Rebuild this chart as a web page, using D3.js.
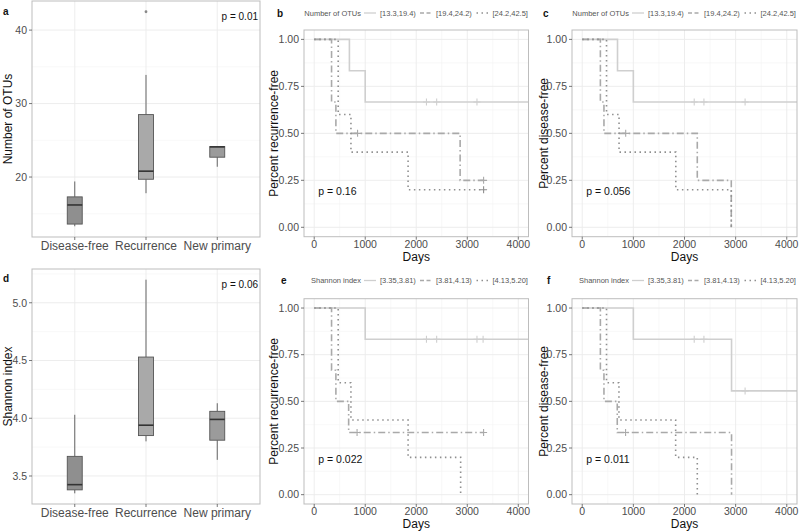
<!DOCTYPE html>
<html>
<head>
<meta charset="utf-8">
<script src="https://cdn.jsdelivr.net/npm/d3@7"></script>
<style>
  body { margin: 0; background: #fff; }
  svg { font-family: "Liberation Sans", Arial, sans-serif; }
</style>
</head>
<body>
<svg id="fig" width="800" height="532"></svg>
<script>
// ---- data ----
const groups = ["Disease-free", "Recurrence", "New primary"];
// boxplot summaries: [lower whisker, q1, median, q3, upper whisker]
const otuBoxes = [[13.3, 13.6, 16.2, 17.3, 19.4], [17.8, 19.7, 20.8, 28.5, 33.9], [21.4, 22.7, 24.1, 24.15, 24.2]];
const otuOutliers = [["Recurrence", 42.5]];
const shannonBoxes = [[3.35, 3.38, 3.425, 3.67, 4.03], [3.8, 3.85, 3.94, 4.53, 5.2], [3.64, 3.81, 3.99, 4.06, 4.13]];
const shannonOutliers = [];

const otuLevels = ["[13.3,19.4)", "[19.4,24.2)", "[24.2,42.5]"];
const shannonLevels = ["[3.35,3.81)", "[3.81,4.13)", "[4.13,5.20]"];

// Kaplan-Meier steps [day, survival] for the three strata, plus censored days
const otuRecSteps = [
  [[0, 1], [690, 0.833], [1000, 0.667], [4500, 0.667]],
  [[0, 1], [340, 0.667], [425, 0.5], [2860, 0.25], [3330, 0.25]],
  [[0, 1], [470, 0.6], [720, 0.4], [1840, 0.2], [3330, 0.2]]
];
const otuRecCensor = [[2200, 2400, 3190], [850, 3320], [3320]];

const otuDfSteps = [
  [[0, 1], [690, 0.833], [1000, 0.667], [4500, 0.667]],
  [[0, 1], [355, 0.667], [425, 0.5], [2250, 0.25], [2915, 0]],
  [[0, 1], [475, 0.6], [720, 0.4], [1830, 0.2], [2915, 0]]
];
const otuDfCensor = [[2190, 2380, 3185], [850], []];

const shRecSteps = [
  [[0, 1], [1000, 0.833], [4500, 0.833]],
  [[0, 1], [340, 0.667], [425, 0.5], [675, 0.333], [3330, 0.333]],
  [[0, 1], [470, 0.6], [720, 0.4], [1840, 0.2], [2870, 0]]
];
const shRecCensor = [[2200, 2400, 3190, 3310], [840, 3320], []];

const shDfSteps = [
  [[0, 1], [1000, 0.833], [2920, 0.556], [4500, 0.556]],
  [[0, 1], [355, 0.667], [425, 0.5], [685, 0.333], [2920, 0]],
  [[0, 1], [475, 0.6], [718, 0.4], [1827, 0.2], [2250, 0]]
];
const shDfCensor = [[2190, 2380, 3185], [848], []];

// ---- styles ----
const boxFill = ["#8f8f8f", "#a9a9a9", "#9b9b9b"];
const lineColor = ["#cfcfcf", "#a9a9a9", "#8f8f8f"];
const lineDash = [null, "7,3,1.5,3", "1.5,3.5"];
const gridMajor = "#ebebeb";
const gridMinor = "#f4f4f4";
const borderColor = "#bdbdbd";
const tickText = "#4d4d4d";

const svg = d3.select("#fig");
let clipId = 0;

function grid(g, x0, x1, y0, y1, xs, ys, color, width) {
  g.selectAll(null).data(xs).join("line")
    .attr("x1", (d) => d).attr("x2", (d) => d).attr("y1", y0).attr("y2", y1)
    .attr("stroke", color).attr("stroke-width", width);
  g.selectAll(null).data(ys).join("line")
    .attr("y1", (d) => d).attr("y2", (d) => d).attr("x1", x0).attr("x2", x1)
    .attr("stroke", color).attr("stroke-width", width);
}

function yAxisTicks(g, left, y, ticks, fmt) {
  const t = g.append("g");
  t.selectAll(null).data(ticks).join("line")
    .attr("x1", left - 3).attr("x2", left).attr("y1", (d) => y(d)).attr("y2", (d) => y(d))
    .attr("stroke", "#555").attr("stroke-width", 0.8);
  t.selectAll(null).data(ticks).join("text")
    .attr("x", left - 5).attr("y", (d) => y(d)).attr("dy", "0.36em")
    .attr("text-anchor", "end").attr("font-size", 10.5).attr("fill", tickText)
    .text(fmt);
}

function panelFrame(g, left, top, right, bottom) {
  g.append("rect")
    .attr("x", left).attr("y", top).attr("width", right - left).attr("height", bottom - top)
    .attr("fill", "none").attr("stroke", borderColor).attr("stroke-width", 1);
}

function yTitle(x, top, bottom, label) {
  svg.append("text")
    .attr("transform", `translate(${x},${(top + bottom) / 2}) rotate(-90)`)
    .attr("text-anchor", "middle").attr("font-size", 12).attr("fill", "#111")
    .text(label);
}

function letter(x, y, s) {
  svg.append("text").attr("x", x).attr("y", y)
    .attr("font-size", 10).attr("font-weight", "bold").attr("fill", "#111").text(s);
}

// ---- boxplot panel ----
function boxPanel(o) {
  const { left, right, top, bottom, boxes, outliers, major, minor, fmt } = o;
  const all = boxes.flat().concat(outliers.map((d) => d[1]));
  const [lo, hi] = d3.extent(all);
  const pad = (hi - lo) * 0.05;
  const y = d3.scaleLinear().domain([lo - pad, hi + pad]).range([bottom, top]);
  const x = d3.scalePoint().domain(groups).range([left, right]).padding(0.6);
  const bw = x.step() * 0.21;
  const g = svg.append("g");

  grid(g, left, right, top, bottom, [], minor.map(y), gridMinor, 0.6);
  grid(g, left, right, top, bottom, groups.map(x), major.map(y), gridMajor, 0.9);

  const b = g.selectAll(null).data(boxes).join("g")
    .attr("transform", (d, i) => `translate(${x(groups[i])},0)`);
  b.append("line").attr("y1", (d) => y(d[0])).attr("y2", (d) => y(d[1]))
    .attr("stroke", "#666").attr("stroke-width", 1);
  b.append("line").attr("y1", (d) => y(d[3])).attr("y2", (d) => y(d[4]))
    .attr("stroke", "#666").attr("stroke-width", 1);
  b.append("rect")
    .attr("x", -bw / 2).attr("width", bw)
    .attr("y", (d) => y(d[3])).attr("height", (d) => y(d[1]) - y(d[3]))
    .attr("fill", (d, i) => boxFill[i]).attr("stroke", "#555").attr("stroke-width", 0.9);
  b.append("line").attr("x1", -bw / 2).attr("x2", bw / 2)
    .attr("y1", (d) => y(d[2])).attr("y2", (d) => y(d[2]))
    .attr("stroke", "#333").attr("stroke-width", 1.6);

  g.selectAll(null).data(outliers).join("circle")
    .attr("cx", (d) => x(d[0])).attr("cy", (d) => y(d[1])).attr("r", 1.4)
    .attr("fill", "#888");

  panelFrame(g, left, top, right, bottom);
  yAxisTicks(g, left, y, major, fmt);

  g.selectAll(null).data(groups).join("line")
    .attr("x1", (d) => x(d)).attr("x2", (d) => x(d)).attr("y1", bottom).attr("y2", bottom + 3)
    .attr("stroke", "#555").attr("stroke-width", 0.8);
  g.selectAll(null).data(groups).join("text")
    .attr("x", (d) => x(d)).attr("y", bottom + 13)
    .attr("text-anchor", "middle").attr("font-size", 12).attr("fill", tickText)
    .text((d) => d);

  g.append("text").attr("x", right - 2).attr("y", top + 19)
    .attr("text-anchor", "end").attr("font-size", 10).attr("fill", "#111").text(o.pText);

  yTitle(o.titleX, top, bottom, o.yLabel);
  letter(3, o.letterY, o.letter);
}

// ---- Kaplan-Meier panel ----
function kmPanel(o) {
  const { left, right, top, bottom, steps, censor, levels } = o;
  const x = d3.scaleLinear().domain([-200, 4200]).range([left, right]);
  const y = d3.scaleLinear().domain([-0.05, 1.05]).range([bottom, top]);
  const g = svg.append("g");
  const xMajor = [0, 1000, 2000, 3000, 4000];
  const xMinor = [500, 1500, 2500, 3500];
  const yMajor = [0, 0.25, 0.5, 0.75, 1];
  const yMinor = [0.125, 0.375, 0.625, 0.875];

  grid(g, left, right, top, bottom, xMinor.map(x), yMinor.map(y), gridMinor, 0.6);
  grid(g, left, right, top, bottom, xMajor.map(x), yMajor.map(y), gridMajor, 0.9);

  const id = "clip" + clipId++;
  g.append("clipPath").attr("id", id).append("rect")
    .attr("x", left).attr("y", top).attr("width", right - left).attr("height", bottom - top);

  const line = d3.line().x((d) => x(d[0])).y((d) => y(d[1])).curve(d3.curveStepAfter);
  const curves = g.append("g").attr("clip-path", `url(#${id})`);
  curves.selectAll(null).data(steps).join("path")
    .attr("d", line).attr("fill", "none")
    .attr("stroke", (d, i) => lineColor[i]).attr("stroke-width", 1.6)
    .attr("stroke-dasharray", (d, i) => lineDash[i]);

  // survival value at a censored day, from the step function
  const surv = (s, t) => s[d3.bisector((d) => d[0]).right(s, t) - 1][1];
  const marks = censor.flatMap((days, i) => days.map((t) => ({ t, v: surv(steps[i], t), i })));
  curves.selectAll(null).data(marks).join("path")
    .attr("d", (d) => `M${x(d.t) - 3.5},${y(d.v)}h7M${x(d.t)},${y(d.v) - 3.5}v7`)
    .attr("stroke", (d) => lineColor[d.i]).attr("stroke-width", 1.1);

  panelFrame(g, left, top, right, bottom);
  yAxisTicks(g, left, y, yMajor, d3.format(".2f"));

  g.selectAll(null).data(xMajor).join("line")
    .attr("x1", (d) => x(d)).attr("x2", (d) => x(d)).attr("y1", bottom).attr("y2", bottom + 3)
    .attr("stroke", "#555").attr("stroke-width", 0.8);
  g.selectAll(null).data(xMajor).join("text")
    .attr("x", (d) => x(d)).attr("y", bottom + 11)
    .attr("text-anchor", "middle").attr("font-size", 10.5).attr("fill", tickText)
    .text((d) => d);
  g.append("text").attr("x", (left + right) / 2).attr("y", bottom + 24)
    .attr("text-anchor", "middle").attr("font-size", 12).attr("fill", "#111").text("Days");

  g.append("text").attr("x", x(80)).attr("y", y(0.19)).attr("dy", "0.36em")
    .attr("font-size", 10.5).attr("fill", "#111").text(o.pText);

  // legend across the top of the panel
  const lg = svg.append("g").attr("font-size", 7.5).attr("fill", "#555");
  const ly = o.legendY;
  const keyX = [60, 116, 172.5];
  lg.append("text").attr("x", left + 57).attr("y", ly + 2.7)
    .attr("text-anchor", "end").text(o.legendTitle);
  levels.forEach((l, i) => {
    lg.append("line")
      .attr("x1", left + keyX[i]).attr("x2", left + keyX[i] + 12).attr("y1", ly).attr("y2", ly)
      .attr("stroke", lineColor[i]).attr("stroke-width", 1.3)
      .attr("stroke-dasharray", i === 1 ? "4,2.5" : lineDash[i]);
    lg.append("text").attr("x", left + keyX[i] + 16).attr("y", ly + 2.7).text(l);
  });

  yTitle(o.titleX, top, bottom, o.yLabel);
  letter(o.letterX, o.letterY, o.letter);
}

boxPanel({
  left: 32, right: 260, top: 1, bottom: 237,
  boxes: otuBoxes, outliers: otuOutliers,
  major: [20, 30, 40], minor: [15, 25, 35], fmt: (d) => d,
  pText: "p = 0.01", yLabel: "Number of OTUs", titleX: 12, letter: "a", letterY: 15
});

boxPanel({
  left: 32, right: 260, top: 269, bottom: 504,
  boxes: shannonBoxes, outliers: shannonOutliers,
  major: [3.5, 4, 4.5, 5], minor: [3.75, 4.25, 4.75, 5.25], fmt: d3.format(".1f"),
  pText: "p = 0.06", yLabel: "Shannon index", titleX: 12, letter: "d", letterY: 282
});

kmPanel({
  left: 304, right: 528.5, top: 30, bottom: 236.7,
  steps: otuRecSteps, censor: otuRecCensor, levels: otuLevels,
  legendTitle: "Number of OTUs", legendY: 13, pText: "p = 0.16",
  yLabel: "Percent recurrence-free", titleX: 278, letter: "b", letterX: 277, letterY: 17
});

kmPanel({
  left: 572, right: 797, top: 30, bottom: 236.7,
  steps: otuDfSteps, censor: otuDfCensor, levels: otuLevels,
  legendTitle: "Number of OTUs", legendY: 13, pText: "p = 0.056",
  yLabel: "Percent disease-free", titleX: 548, letter: "c", letterX: 543, letterY: 17
});

kmPanel({
  left: 304, right: 528.5, top: 298.7, bottom: 504,
  steps: shRecSteps, censor: shRecCensor, levels: shannonLevels,
  legendTitle: "Shannon index", legendY: 280.5, pText: "p = 0.022",
  yLabel: "Percent recurrence-free", titleX: 278, letter: "e", letterX: 281, letterY: 284
});

kmPanel({
  left: 572, right: 797, top: 298.7, bottom: 504,
  steps: shDfSteps, censor: shDfCensor, levels: shannonLevels,
  legendTitle: "Shannon index", legendY: 280.5, pText: "p = 0.011",
  yLabel: "Percent disease-free", titleX: 548, letter: "f", letterX: 547, letterY: 284
});
</script>
</body>
</html>
